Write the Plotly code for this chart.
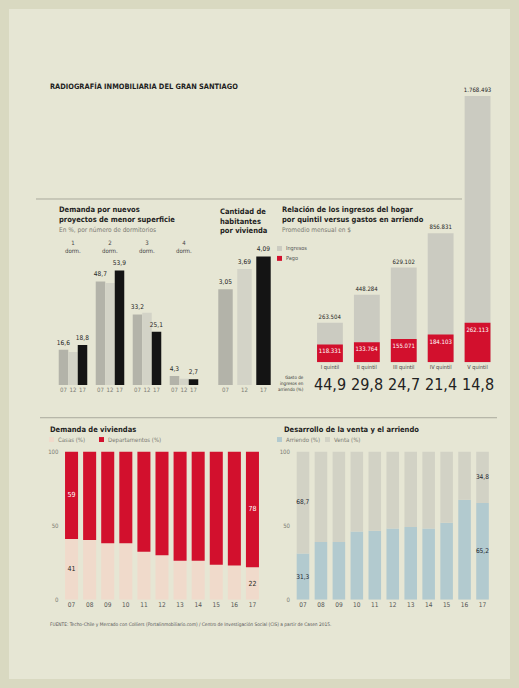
import plotly.graph_objects as go

# ---------------- data ----------------
dorm_groups = ["1\ndorm.", "2\ndorm.", "3\ndorm.", "4\ndorm."]
dorm_years = ["07", "12", "17"]
dorm_07 = [16.6, 48.7, 33.2, 4.3]
dorm_12 = [15.5, 48.0, 34.0, 3.0]
dorm_17 = [18.8, 53.9, 25.1, 2.7]

hab_years = ["07", "12", "17"]
hab_values = [3.05, 3.69, 4.09]

quintiles = ["I quintil", "II quintil", "III quintil", "IV quintil", "V quintil"]
ingresos = [263504, 448284, 629102, 856831, 1768493]
pago = [118331, 133764, 155071, 184103, 262113]
gasto_pct = [44.9, 29.8, 24.7, 21.4, 14.8]

years = ["07", "08", "09", "10", "11", "12", "13", "14", "15", "16", "17"]
casas = [41, 40.4, 38.2, 38.2, 32.4, 30, 26.3, 26.3, 23.7, 23.1, 22]
departamentos = [59, 59.6, 61.8, 61.8, 67.6, 70, 73.7, 73.7, 76.3, 76.9, 78]
arriendo = [31.3, 39, 39, 46, 46.5, 48, 49, 48, 52, 67.5, 65.2]
venta = [68.7, 61, 61, 54, 53.5, 52, 51, 52, 48, 32.5, 34.8]

# ---------------- style ----------------
W, H = 519, 688
FONT = "Liberation Sans Narrow, DejaVu Sans Condensed, Roboto, sans-serif"
OUTER_BG = "#d9d9c1"
INNER_BG = "#e6e6d4"
DARK = "#1e1e1e"
GREY_TXT = "#7a7a72"
C07, C12, C17 = "#b3b3a9", "#d3d3c7", "#141414"
C_ING, C_PAGO = "#cbcbc1", "#d2102d"
C_CASA, C_DEPTO = "#f0dacb", "#d2102d"
C_ARR, C_VEN = "#b2cacf", "#d2d2c5"


def fx(px):
    return px / W


def fy(py):
    return 1 - py / H


def es_dec(v):
    return f"{v:.1f}".replace(".", ",")


def es_miles(v):
    return f"{v:,}".replace(",", ".")


fig = go.Figure()

# ---- chart 1: demand by number of bedrooms (bars placed around group index) ----
bw1 = 0.257
offsets = [-bw1, 0.0, bw1]
for series, off, col, show in [(dorm_07, offsets[0], C07, True),
                               (dorm_12, offsets[1], C12, False),
                               (dorm_17, offsets[2], C17, True)]:
    fig.add_bar(
        x=[i + off for i in range(len(dorm_groups))], y=series, width=bw1,
        marker=dict(color=col, line=dict(width=0)),
        text=[es_dec(v) for v in series] if show else None,
        textposition="outside", constraintext="none", textangle=0,
        textfont=dict(size=6.5, color=DARK, family=FONT),
        cliponaxis=False, xaxis="x", yaxis="y", showlegend=False, hoverinfo="skip")

tick_pos1, tick_txt1 = [], []
for i in range(len(dorm_groups)):
    for off, yr in zip(offsets, dorm_years):
        tick_pos1.append(i + off)
        tick_txt1.append(yr)

# ---- chart 2: inhabitants per dwelling ----
fig.add_bar(
    x=hab_years, y=hab_values, width=0.76,
    marker=dict(color=[C07, C12, C17], line=dict(width=0)),
    text=[f"{v:.2f}".replace(".", ",") for v in hab_values],
    textposition="outside", constraintext="none", textangle=0,
    textfont=dict(size=6.5, color=DARK, family=FONT),
    cliponaxis=False, xaxis="x2", yaxis="y2", showlegend=False, hoverinfo="skip")

# ---- chart 3: income vs rent by quintile ----
fig.add_bar(
    x=quintiles, y=ingresos, width=0.70,
    marker=dict(color=C_ING, line=dict(width=0)),
    text=[es_miles(v) for v in ingresos], textposition="outside",
    constraintext="none", textangle=0,
    textfont=dict(size=6, color=DARK, family=FONT),
    cliponaxis=False, xaxis="x3", yaxis="y3", showlegend=False, hoverinfo="skip")
fig.add_bar(
    x=quintiles, y=pago, width=0.70,
    marker=dict(color=C_PAGO, line=dict(width=0)),
    text=[es_miles(v) for v in pago], textposition="inside",
    insidetextanchor="end", constraintext="none", textangle=0,
    textfont=dict(size=6, color="white", family=FONT),
    cliponaxis=False, xaxis="x3", yaxis="y3", showlegend=False, hoverinfo="skip")


# ---- chart 4: houses vs apartments (stacked via base) ----
def end_labels(vals):
    return [str(round(v)) if i in (0, len(vals) - 1) else "" for i, v in enumerate(vals)]


fig.add_bar(
    x=years, y=casas, width=0.72,
    marker=dict(color=C_CASA, line=dict(width=0)),
    text=end_labels(casas), textposition="inside", insidetextanchor="middle",
    constraintext="none", textangle=0,
    textfont=dict(size=7, color=DARK, family=FONT),
    xaxis="x4", yaxis="y4", showlegend=False, hoverinfo="skip")
fig.add_bar(
    x=years, y=departamentos, base=casas, width=0.72,
    marker=dict(color=C_DEPTO, line=dict(width=0)),
    text=end_labels(departamentos), textposition="inside", insidetextanchor="middle",
    constraintext="none", textangle=0,
    textfont=dict(size=7, color="white", family=FONT),
    xaxis="x4", yaxis="y4", showlegend=False, hoverinfo="skip")


# ---- chart 5: rent vs sale (stacked via base) ----
def end_dec(vals):
    return [es_dec(v) if i in (0, len(vals) - 1) else "" for i, v in enumerate(vals)]


fig.add_bar(
    x=years, y=arriendo, width=0.70,
    marker=dict(color=C_ARR, line=dict(width=0)),
    text=end_dec(arriendo), textposition="inside", insidetextanchor="middle",
    constraintext="none", textangle=0,
    textfont=dict(size=6.5, color="#1c2630", family=FONT),
    xaxis="x5", yaxis="y5", showlegend=False, hoverinfo="skip")
fig.add_bar(
    x=years, y=venta, base=arriendo, width=0.70,
    marker=dict(color=C_VEN, line=dict(width=0)),
    text=end_dec(venta), textposition="inside", insidetextanchor="middle",
    constraintext="none", textangle=0,
    textfont=dict(size=6.5, color="#1c2630", family=FONT),
    xaxis="x5", yaxis="y5", showlegend=False, hoverinfo="skip")

# ---------------- axes ----------------
hidden_y = dict(visible=False, fixedrange=True)
xbase = dict(showgrid=False, zeroline=False, showline=False, ticks="",
             tickfont=dict(size=6, color=GREY_TXT, family=FONT), fixedrange=True)
ybottom = dict(range=[0, 100], tickvals=[0, 50, 100], showgrid=False, zeroline=False,
               showline=False, ticks="", ticklabelstandoff=3,
               tickfont=dict(size=6, color=GREY_TXT, family=FONT), fixedrange=True)

fig.update_layout(
    width=W, height=H, margin=dict(l=0, r=0, t=0, b=0),
    paper_bgcolor=OUTER_BG, plot_bgcolor="rgba(0,0,0,0)",
    barmode="overlay", font=dict(family=FONT, color=DARK),
    xaxis=dict(xbase, domain=[fx(54.5), fx(202.5)], range=[-0.5, 3.5],
               tickmode="array", tickvals=tick_pos1, ticktext=tick_txt1, anchor="y"),
    yaxis=dict(hidden_y, domain=[fy(385), fy(256)], range=[0, 60], anchor="x"),
    xaxis2=dict(xbase, domain=[fx(216), fx(273)], anchor="y2", type="category"),
    yaxis2=dict(hidden_y, domain=[fy(385), fy(242)], range=[0, 4.5], anchor="x2"),
    xaxis3=dict(xbase, domain=[fx(311.5), fx(496)], anchor="y3", type="category",
                tickfont=dict(size=5.5, color="#444", family=FONT)),
    yaxis3=dict(hidden_y, domain=[fy(362), fy(73)], range=[0, 1.9e6], anchor="x3"),
    xaxis4=dict(xbase, domain=[fx(62.5), fx(261.5)], anchor="y4", type="category",
                tickfont=dict(size=6.5, color="#555", family=FONT)),
    yaxis4=dict(ybottom, domain=[fy(602), fy(452)], anchor="x4"),
    xaxis5=dict(xbase, domain=[fx(294), fx(491.5)], anchor="y5", type="category",
                tickfont=dict(size=6.5, color="#555", family=FONT)),
    yaxis5=dict(ybottom, domain=[fy(602), fy(452)], anchor="x5"),
)

# ---------------- frame, rules and legend keys ----------------
shapes = [
    dict(type="rect", xref="paper", yref="paper", x0=fx(9), x1=fx(510), y0=fy(682), y1=fy(5),
         fillcolor=INNER_BG, line=dict(width=0), layer="below"),
    dict(type="line", xref="paper", yref="paper", x0=fx(36), x1=fx(462), y0=fy(197), y1=fy(197),
         line=dict(color="#a9a99c", width=1)),
    dict(type="line", xref="paper", yref="paper", x0=fx(40), x1=fx(497), y0=fy(418), y1=fy(418),
         line=dict(color="#a9a99c", width=1)),
]


def key(x, y, color):
    return dict(type="rect", xref="paper", yref="paper", x0=fx(x), x1=fx(x + 5),
                y0=fy(y + 2.5), y1=fy(y - 2.5), fillcolor=color, line=dict(width=0))


shapes += [key(277, 247, C_ING), key(277, 257, C_PAGO),
           key(49, 440, C_CASA), key(99, 440, C_DEPTO),
           key(277, 440, C_ARR), key(325, 440, C_VEN)]
fig.update_layout(shapes=shapes)

# ---------------- texts ----------------
ann = []


def txt(x, y, s, size=7, color=DARK, bold=False, xanchor="left", align="left"):
    ann.append(dict(x=fx(x), y=fy(y), xref="paper", yref="paper",
                    text=f"<b>{s}</b>" if bold else s, showarrow=False,
                    xanchor=xanchor, yanchor="middle", align=align,
                    font=dict(size=size, color=color, family=FONT)))


txt(48, 83, "RADIOGRAFÍA INMOBILIARIA DEL GRAN SANTIAGO", size=7.4, bold=True)

txt(57, 208, "Demanda por nuevos", size=7.5, bold=True)
txt(57, 218, "proyectos de menor superficie", size=7.5, bold=True)
txt(57, 228, "En %, por número de dormitorios", size=6.5, color=GREY_TXT)
for i, g in enumerate(dorm_groups):
    ann.append(dict(x=i, y=fy(245), xref="x", yref="paper", text=g.replace("\n", "<br>"),
                    showarrow=False, xanchor="center", yanchor="middle", align="center",
                    font=dict(size=6, color="#444", family=FONT)))

txt(218, 210, "Cantidad de", size=7.5, bold=True)
txt(218, 219.5, "habitantes", size=7.5, bold=True)
txt(218, 229, "por vivienda", size=7.5, bold=True)

txt(280, 208, "Relación de los ingresos del hogar", size=7.5, bold=True)
txt(280, 218, "por quintil versus gastos en arriendo", size=7.5, bold=True)
txt(280, 228, "Promedio mensual en $", size=6.5, color=GREY_TXT)
txt(284, 247, "Ingresos", size=5.5, color="#555")
txt(284, 257, "Pago", size=5.5, color="#555")

txt(306, 383, "Gasto de<br>ingresos en<br>arriendo (%)", size=4.5, color="#333",
    xanchor="right", align="right")
for q, g in zip(quintiles, gasto_pct):
    ann.append(dict(x=q, y=fy(384), xref="x3", yref="paper", text=es_dec(g), showarrow=False,
                    xanchor="center", yanchor="middle",
                    font=dict(size=16, color="#222", family=FONT)))

txt(48, 430, "Demanda de viviendas", size=7.5, bold=True)
txt(56, 440, "Casas (%)", size=6, color=GREY_TXT)
txt(106, 440, "Departamentos (%)", size=6, color=GREY_TXT)

txt(282, 430, "Desarrollo de la venta y el arriendo", size=7.5, bold=True)
txt(284, 440, "Arriendo (%)", size=6, color=GREY_TXT)
txt(332, 440, "Venta (%)", size=6, color=GREY_TXT)

txt(48, 627, "FUENTE: Techo-Chile y Mercado con Colliers (Portalinmobiliario.com) / Centro de "
    "Investigación Social (CIS) a partir de Casen 2015.", size=4.8, color="#555")

fig.update_layout(annotations=ann)

fig.write_html("out.html")
